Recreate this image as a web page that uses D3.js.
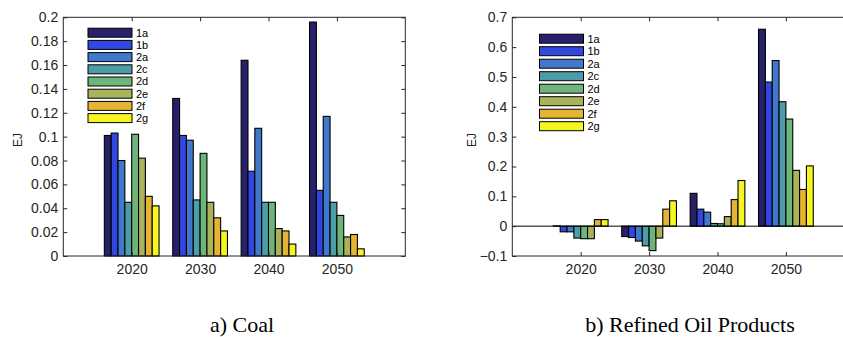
<!DOCTYPE html>
<html>
<head>
<meta charset="utf-8">
<script src="https://cdn.jsdelivr.net/npm/d3@7"></script>
<style>
  body { margin: 0; background: #fff; }
  text { font-family: "Liberation Sans", Arial, sans-serif; fill: #262626; }
</style>
</head>
<body>
<svg id="chart" width="843" height="337"></svg>
<script>
// chart data
var years = [2020, 2030, 2040, 2050];
var scenarios = ["1a", "1b", "2a", "2c", "2d", "2e", "2f", "2g"];
var colours = ["#27216b", "#3048df", "#4078cc", "#4c9da8", "#6db57a", "#aab35a", "#e6b435", "#f5f522"];

// coal, one row per year, one value per scenario
var coal = [
  [0.101, 0.103, 0.080, 0.045, 0.102, 0.082, 0.050, 0.042],
  [0.132, 0.101, 0.097, 0.047, 0.086, 0.045, 0.032, 0.021],
  [0.164, 0.071, 0.107, 0.045, 0.045, 0.023, 0.021, 0.010],
  [0.196, 0.055, 0.117, 0.045, 0.034, 0.016, 0.018, 0.006]
];
var coalTicks = [0, 0.02, 0.04, 0.06, 0.08, 0.1, 0.12, 0.14, 0.16, 0.18, 0.2];

// refined oil products
var oil = [
  [0.001, -0.019, -0.019, -0.040, -0.042, -0.042, 0.022, 0.022],
  [-0.035, -0.038, -0.050, -0.066, -0.082, -0.040, 0.057, 0.085],
  [0.110, 0.057, 0.047, 0.009, 0.008, 0.032, 0.089, 0.153],
  [0.660, 0.483, 0.555, 0.417, 0.359, 0.187, 0.123, 0.202]
];
var oilTicks = [-0.1, 0, 0.1, 0.2, 0.3, 0.4, 0.5, 0.6, 0.7];

var svg = d3.select("#chart");

function drawPanel(opts){
  var x = d3.scaleLinear().domain([2010, 2060]).range([opts.left, opts.left + 342]);
  var y = d3.scaleLinear().domain(opts.ydomain).range([256, 17.3]);
  var g = svg.append("g");
  var axisCol = "#262626";

  // bars: group is 8 units wide, one unit per bar
  var rows = [];
  opts.data.forEach(function(row, i){
    row.forEach(function(v, j){
      rows.push({year: years[i], j: j, v: v});
    });
  });
  g.selectAll("rect.bar").data(rows).enter()
    .append("rect")
    .attr("class", "bar")
    .attr("x", function(d){ return x(d.year + (d.j - 4)); })
    .attr("width", function(d){ return x(2011) - x(2010); })
    .attr("y", function(d){ return y(Math.max(0, d.v)); })
    .attr("height", function(d){ return Math.abs(y(d.v) - y(0)); })
    .style("fill", function(d){ return colours[d.j]; })
    .style("stroke", "#000")
    .style("stroke-width", 1.1);

  if (opts.ydomain[0] < 0){
    g.append("line")
      .attr("x1", x(2010)).attr("x2", x(2060))
      .attr("y1", y(0)).attr("y2", y(0))
      .style("stroke", "#000").style("stroke-width", 1);
  }

  // box
  g.append("rect")
    .attr("x", x(2010)).attr("y", y(opts.ydomain[1]))
    .attr("width", x(2060) - x(2010)).attr("height", y(opts.ydomain[0]) - y(opts.ydomain[1]))
    .style("fill", "none").style("stroke", axisCol).style("stroke-width", 1);

  var yl = d3.axisLeft(y).tickValues(opts.yticks).tickSize(-4).tickPadding(5)
    .tickFormat(function(d){ return d3.format("~g")(+d.toFixed(2)); });
  var ya = g.append("g").attr("transform", "translate(" + x(2010) + ",0)").call(yl);
  var yr = g.append("g").attr("transform", "translate(" + x(2060) + ",0)")
    .call(d3.axisRight(y).tickValues(opts.yticks).tickSize(-4).tickFormat(""));
  var xb = g.append("g").attr("transform", "translate(0," + y(opts.ydomain[0]) + ")")
    .call(d3.axisBottom(x).tickValues(years).tickSize(-4).tickPadding(8).tickFormat(d3.format("d")));
  var xt = g.append("g").attr("transform", "translate(0," + y(opts.ydomain[1]) + ")")
    .call(d3.axisTop(x).tickValues(years).tickSize(-4).tickFormat(""));
  [ya, yr, xb, xt].forEach(function(a){
    a.select(".domain").remove();
    a.selectAll("line").style("stroke", axisCol);
    a.selectAll("text").style("font-size", "14px").style("fill", axisCol)
      .style("font-family", "Liberation Sans, Arial, sans-serif");
  });

  g.append("text")
    .attr("transform", "translate(" + opts.ylabelX + ",140) rotate(-90)")
    .attr("text-anchor", "middle")
    .style("font-size", "12px")
    .text("EJ");

  // legend, no box
  var lg = g.append("g");
  lg.selectAll("rect").data(scenarios).enter()
    .append("rect")
    .attr("x", opts.legX)
    .attr("y", function(d, i){ return opts.legY + i * opts.legStep - 4.5; })
    .attr("width", 44).attr("height", 9)
    .style("fill", function(d, i){ return colours[i]; })
    .style("stroke", "#000").style("stroke-width", 1);
  lg.selectAll("text").data(scenarios).enter()
    .append("text")
    .attr("x", opts.legX + 48)
    .attr("y", function(d, i){ return opts.legY + i * opts.legStep; })
    .attr("dy", "0.36em")
    .style("font-size", "11px")
    .style("fill", "#000")
    .text(function(d){ return d; });

  svg.append("text")
    .attr("x", opts.capX).attr("y", 332)
    .attr("text-anchor", "middle")
    .style("font-family", "'Liberation Serif', 'DejaVu Serif', serif")
    .style("font-size", "22px")
    .style("fill", "#000")
    .text(opts.caption);
}

drawPanel({left: 63.3, ydomain: [0, 0.2], yticks: coalTicks, data: coal,
  ylabelX: 22, legX: 88, legY: 32.7, legStep: 12.2, capX: 242, caption: "a) Coal"});
drawPanel({left: 512.3, ydomain: [-0.1, 0.7], yticks: oilTicks, data: oil,
  ylabelX: 476, legX: 539.5, legY: 38.7, legStep: 12.5, capX: 690, caption: "b) Refined Oil Products"});
</script>
</body>
</html>
